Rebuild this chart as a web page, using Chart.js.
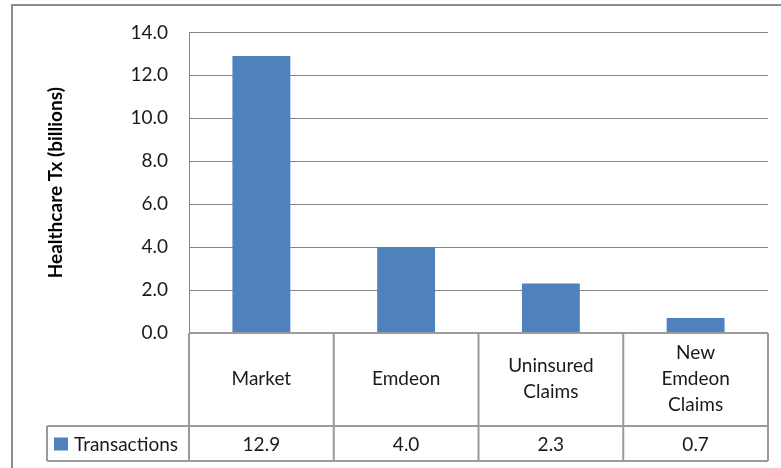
<!DOCTYPE html>
<html>
<head>
<meta charset="utf-8">
<script src="https://cdn.jsdelivr.net/npm/chart.js@4/dist/chart.umd.min.js"></script>
<style>
  html, body { margin: 0; padding: 0; background: #fff; }
  #wrap { width: 781px; height: 468px; }
</style>
</head>
<body>
<div id="wrap"><canvas id="c" width="781" height="468"></canvas></div>
<script>
// ---- data ----
const categories = [["Market"], ["Emdeon"], ["Uninsured", "Claims"], ["New", "Emdeon", "Claims"]];
const seriesName = "Transactions";
const transactions = [12.9, 4.0, 2.3, 0.7];
const yTicks = [0, 2, 4, 6, 8, 10, 12, 14];
const yTitle = "Healthcare Tx (billions)";

const BAR = '#4F81BD';
const LINE = '#9a9a9a';
const GRID = '#868686';
const FONT = 'Lato, "Open Sans", sans-serif';

const tablePlugin = {
  id: 'dataTable',
  afterDraw(chart) {
    const ctx = chart.ctx;
    const x = chart.scales.x;
    const area = chart.chartArea;
    const n = categories.length;
    const half = (x.getPixelForValue(1) - x.getPixelForValue(0)) / 2;
    const bounds = [];
    for (let i = 0; i < n; i++) bounds.push(x.getPixelForValue(i) - half);
    bounds.push(x.getPixelForValue(n - 1) + half);

    const top = area.bottom;
    const rowSplit = top + 93;
    const bottom = top + 128;
    const legendLeft = 47;

    ctx.save();
    // outer chart border
    ctx.strokeStyle = '#8c8c8c';
    ctx.lineWidth = 2;
    ctx.beginPath();
    ctx.moveTo(12, 468);
    ctx.lineTo(12, 5);
    ctx.lineTo(781, 5);
    ctx.stroke();

    // table lines
    ctx.strokeStyle = LINE;
    ctx.lineWidth = 2;
    ctx.beginPath();
    ctx.moveTo(bounds[0], top); ctx.lineTo(bounds[n], top);
    ctx.moveTo(legendLeft, rowSplit); ctx.lineTo(bounds[n], rowSplit);
    ctx.moveTo(legendLeft, bottom); ctx.lineTo(bounds[n], bottom);
    ctx.moveTo(legendLeft, rowSplit); ctx.lineTo(legendLeft, bottom);
    for (let i = 0; i <= n; i++) {
      ctx.moveTo(bounds[i], top); ctx.lineTo(bounds[i], bottom);
    }
    ctx.stroke();

    // category labels
    ctx.fillStyle = '#1a1a1a';
    ctx.font = '19px ' + FONT;
    ctx.textAlign = 'center';
    ctx.textBaseline = 'middle';
    const midCat = (top + rowSplit) / 2 - 0.5;
    const lh = 26;
    for (let i = 0; i < n; i++) {
      const lines = categories[i];
      const cx = x.getPixelForValue(i);
      const y0 = midCat - (lines.length - 1) * lh / 2;
      lines.forEach((t, k) => ctx.fillText(t, cx, y0 + k * lh));
    }
    // values row
    const midVal = (rowSplit + bottom) / 2 + 1;
    for (let i = 0; i < n; i++) {
      ctx.fillText(transactions[i].toFixed(1), x.getPixelForValue(i), midVal);
    }
    // legend key
    ctx.fillStyle = BAR;
    ctx.fillRect(54, midVal - 7, 14, 13);
    ctx.fillStyle = '#1a1a1a';
    ctx.textAlign = 'left';
    ctx.fillText(seriesName, 74, midVal);
    ctx.restore();
  }
};

new Chart(document.getElementById('c'), {
  type: 'bar',
  data: {
    labels: categories,
    datasets: [{
      label: seriesName,
      data: transactions,
      backgroundColor: BAR,
      borderWidth: 0,
      categoryPercentage: 1.0,
      barPercentage: 0.4
    }]
  },
  options: {
    responsive: false,
    animation: false,
    events: [],
    layout: { padding: { left: 0, top: 27, right: 13, bottom: 135 } },
    plugins: { legend: { display: false }, tooltip: { enabled: false } },
    scales: {
      x: { display: false },
      y: {
        min: yTicks[0],
        max: yTicks[yTicks.length - 1],
        afterFit(scale) { scale.width = 189; },
        afterBuildTicks(scale) { scale.ticks = yTicks.map(v => ({ value: v })); },
        ticks: {
          padding: 21,
          color: '#1a1a1a',
          font: { family: FONT, size: 19 },
          callback: v => Number(v).toFixed(1)
        },
        grid: { color: GRID, lineWidth: 1, drawTicks: false },
        border: { display: true, color: GRID, width: 1 },
        title: {
          display: true,
          text: yTitle,
          color: '#000',
          font: { family: FONT, size: 19, weight: 'bold' },
          padding: { top: 44, bottom: 0 }
        }
      }
    }
  },
  plugins: [tablePlugin]
});
</script>
</body>
</html>
